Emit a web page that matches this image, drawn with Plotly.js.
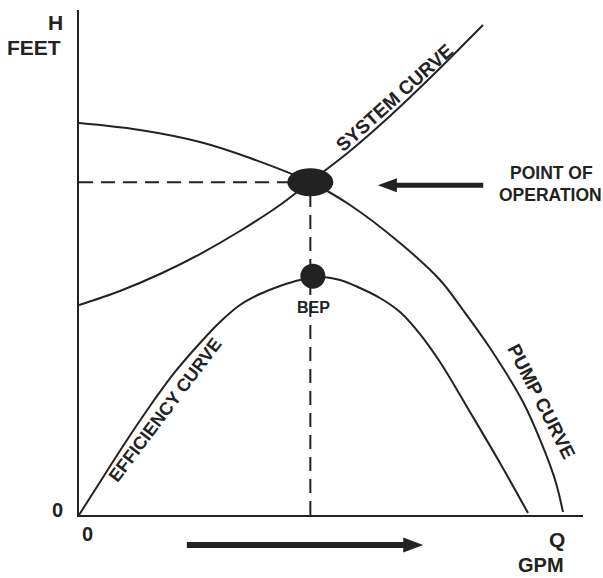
<!DOCTYPE html>
<html><head><meta charset="utf-8">
<script src="https://cdn.plot.ly/plotly-3.0.1.min.js"></script>
<style>html,body{margin:0;padding:0;background:#fff}#chart{width:603px;height:578px}</style>
</head><body><div id="chart"></div>
<script>
// Pump curve (head vs flow), arbitrary 0-100 units
const pumpQ = [0, 12.10, 24.01, 33.93, 45.83, 53.77, 63.69, 71.63, 76.19, 81.55, 88.10, 92.46, 94.64, 96.03];
const pumpH = [77.62, 76.24, 73.86, 70.69, 65.94, 61.39, 53.86, 46.53, 40.59, 33.07, 22.38, 12.48, 6.34, 0.59];
// System curve
const systemQ = [0, 8.13, 16.07, 24.01, 31.94, 39.88, 45.83, 53.77, 61.71, 69.64, 80.16];
const systemH = [41.58, 44.36, 47.72, 51.68, 56.24, 61.39, 65.94, 72.08, 79.01, 86.53, 97.03];
// Efficiency curve
const effQ = [0, 4.17, 9.13, 14.09, 19.05, 24.01, 27.98, 31.94, 35.91, 39.88, 43.85, 47.82, 51.79, 55.75, 59.72, 63.69, 67.66, 71.63, 77.58, 83.53, 89.09];
const effE = [0, 6.53, 14.26, 21.58, 28.32, 34.06, 38.22, 41.58, 43.76, 45.35, 46.53, 47.13, 46.53, 44.95, 42.97, 40.20, 35.84, 30.30, 20.40, 10.30, 0.40];
// Operating point and best efficiency point
const opPoint = [45.9, 65.9];
const bepPoint = [46.4, 47.3];
// Arrows (Q units / H units)
const flowArrowQ = [21.4, 68.3];
const opArrowQ = [80.2, 59.3];
const opArrowH = 65.3;
const originLabel = '0';

const INK = '#222';
const FONT = 'Liberation Sans, Arial, Helvetica, sans-serif';
const dataPerPxX = 100 / 504, dataPerPxY = 100 / 505;
const curveLine = {color: INK, width: 2, shape: 'spline', smoothing: 1};

const traces = [
  {x: [0, opPoint[0]], y: [opPoint[1], opPoint[1]], mode: 'lines', line: {color: INK, width: 2, dash: '14px,8px'}, hoverinfo: 'skip'},
  {x: [opPoint[0], opPoint[0]], y: [0, opPoint[1]], mode: 'lines', line: {color: INK, width: 2, dash: '14px,8px'}, hoverinfo: 'skip'},
  {x: pumpQ, y: pumpH, mode: 'lines', line: curveLine, name: 'Pump curve'},
  {x: systemQ, y: systemH, mode: 'lines', line: curveLine, name: 'System curve'},
  {x: effQ, y: effE, mode: 'lines', line: curveLine, name: 'Efficiency curve'},
  {x: [bepPoint[0]], y: [bepPoint[1]], mode: 'markers', marker: {color: INK, size: 25, line: {width: 0}}, name: 'BEP', cliponaxis: false}
];

// flow arrow below x axis (paper coords)
const fy = (515 - 545) / 505;
const fx0 = flowArrowQ[0] / 100, fxTip = flowArrowQ[1] / 100;
const fxBase = fxTip - 20 / 504;
const fh = 7.5 / 505;
// op arrow (data coords)
const oxTip = opArrowQ[1], oxBase = oxTip + 19 * dataPerPxX, oh = 7 * dataPerPxY;

const shapes = [
  {type: 'circle', xref: 'x', yref: 'y', xsizemode: 'pixel', ysizemode: 'pixel',
   xanchor: opPoint[0], yanchor: opPoint[1], x0: -23, x1: 23, y0: -14, y1: 14,
   fillcolor: INK, line: {width: 0}},
  {type: 'line', xref: 'paper', yref: 'paper', x0: fx0, x1: fxBase + 2 / 504, y0: fy, y1: fy,
   line: {color: INK, width: 6}},
  {type: 'path', xref: 'paper', yref: 'paper',
   path: `M${fxTip},${fy} L${fxBase},${fy + fh} L${fxBase},${fy - fh} Z`,
   fillcolor: INK, line: {width: 0}},
  {type: 'line', xref: 'x', yref: 'y', x0: opArrowQ[0], x1: oxBase - 1 * dataPerPxX, y0: opArrowH, y1: opArrowH,
   line: {color: INK, width: 5}},
  {type: 'path', xref: 'x', yref: 'y',
   path: `M${oxTip},${opArrowH} L${oxBase},${opArrowH + oh} L${oxBase},${opArrowH - oh} Z`,
   fillcolor: INK, line: {width: 0}}
];

function lab(text, x, y, size, opts) {
  return Object.assign({text: '<b>' + text + '</b>', x: x, y: y, xref: 'paper', yref: 'paper',
    showarrow: false, xanchor: 'center', yanchor: 'middle',
    font: {family: FONT, size: size, color: INK}}, opts || {});
}

const annotations = [
  lab('H', -0.027, 0.976, 21, {xanchor: 'right'}),
  lab('FEET', -0.031, 0.925, 21, {xanchor: 'right'}),
  lab(originLabel, -0.027, 0.01, 20, {xanchor: 'right'}),
  lab(originLabel, 0.016, -0.0376, 20),
  lab('Q', 0.948, -0.0495, 21),
  lab('GPM', 0.917, -0.0995, 20),
  lab('POINT OF', 93.8, 67.7, 17.5, {xref: 'x', yref: 'y'}),
  lab('OPERATION', 93.6, 63.4, 17.5, {xref: 'x', yref: 'y'}),
  lab('BEP', 46.6, 41.0, 16, {xref: 'x', yref: 'y'}),
  lab('SYSTEM CURVE', 62.7, 82.6, 19, {xref: 'x', yref: 'y', textangle: -42}),
  lab('EFFICIENCY CURVE', 17.1, 20.8, 18, {xref: 'x', yref: 'y', textangle: -53}),
  lab('PUMP CURVE', 91.7, 22.4, 19, {xref: 'x', yref: 'y', textangle: 63})
];

const axisCommon = {range: [0, 100], showgrid: false, zeroline: false, showticklabels: false,
  ticks: '', showline: true, linecolor: INK, linewidth: 2, fixedrange: true};

const layout = {
  width: 603, height: 578,
  margin: {l: 79, r: 20, t: 10, b: 63, pad: 0},
  paper_bgcolor: '#fff', plot_bgcolor: '#fff',
  showlegend: false,
  xaxis: Object.assign({}, axisCommon),
  yaxis: Object.assign({}, axisCommon),
  shapes: shapes,
  annotations: annotations
};

Plotly.newPlot('chart', traces, layout, {displayModeBar: false, staticPlot: true});
</script>
</body></html>
